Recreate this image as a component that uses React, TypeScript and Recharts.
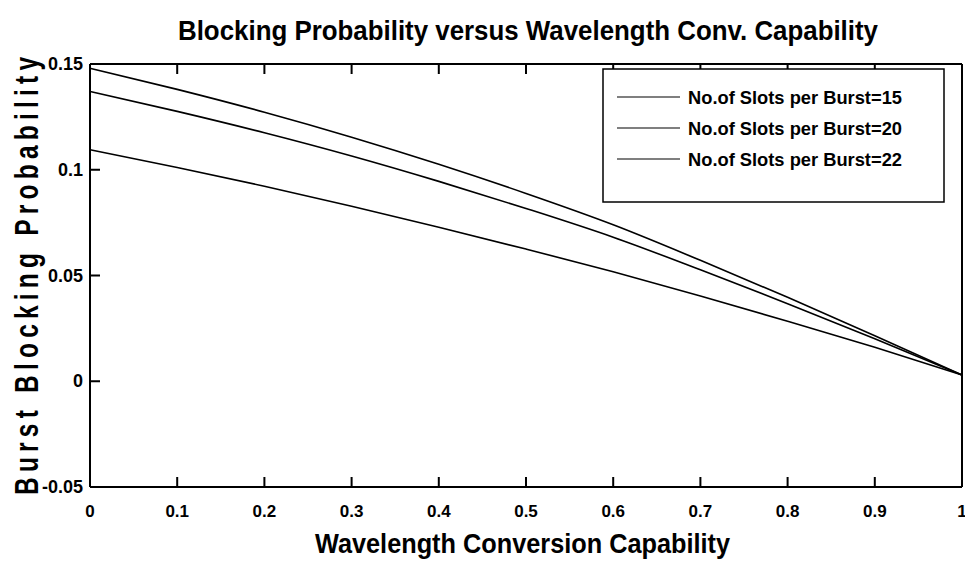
import React from 'react'
import { LineChart, Line, XAxis, YAxis } from 'recharts'

const capability = [0, 0.1, 0.2, 0.3, 0.4, 0.5, 0.6, 0.7, 0.8, 0.9, 1]
const slots15 = [0.1095, 0.1011, 0.0922, 0.0827, 0.0728, 0.0625, 0.0518, 0.0403, 0.0284, 0.0161, 0.003]
const slots20 = [0.137, 0.1276, 0.1175, 0.1065, 0.0945, 0.0817, 0.0681, 0.0527, 0.0367, 0.0201, 0.003]
const slots22 = [0.148, 0.138, 0.1272, 0.1154, 0.1026, 0.0888, 0.074, 0.0572, 0.0397, 0.0215, 0.003]

const xTicks = [0, 0.1, 0.2, 0.3, 0.4, 0.5, 0.6, 0.7, 0.8, 0.9, 1]
const yTicks = [-0.05, 0, 0.05, 0.1, 0.15]
const legendLabels = ['No.of Slots per Burst=15', 'No.of Slots per Burst=20', 'No.of Slots per Burst=22']

const W = 965
const H = 567
const font = "'Liberation Sans', Arial, sans-serif"

const data = capability.map((x, i) => ({
  x,
  s15: slots15[i],
  s20: slots20[i],
  s22: slots22[i],
}))

const frame = { stroke: '#000', strokeWidth: 2 }

// matlab style ticks: short marks pointing into the plot
const BottomTick = (props: any) => {
  const x = Number(props.x)
  const y = Number(props.y)
  return (
    <g>
      <rect x={x - 1} y={y - 10} width={2} height={10} fill="#000" />
      <text x={x} y={y + 30} textAnchor="middle" fontFamily={font} fontSize={17} fontWeight="bold" fill="#000">
        {String(props.payload.value)}
      </text>
    </g>
  )
}
const TopTick = (props: any) => <rect x={Number(props.x) - 1} y={Number(props.y)} width={2} height={10} fill="#000" />
const LeftTick = (props: any) => (
  <g>
    <rect x={Number(props.x)} y={Number(props.y) - 1} width={10} height={2} fill="#000" />
    <text x={Number(props.x) - 7} y={Number(props.y) + 6} textAnchor="end" fontFamily={font} fontSize={18} fontWeight="bold" fill="#000">
      {String(props.payload.value)}
    </text>
  </g>
)
const RightTick = (props: any) => <rect x={Number(props.x) - 10} y={Number(props.y) - 1} width={10} height={2} fill="#000" />

const App: React.FC = () => (
  <div style={{ position: 'absolute', left: 0, top: 0, width: W, height: H, background: '#fff' }}>
    <LineChart width={W} height={H} data={data} margin={{ top: 63, right: 2, bottom: 50, left: 30 }}>
      <XAxis xAxisId="bottom" dataKey="x" type="number" domain={[0, 1]} ticks={xTicks} height={30} tickSize={0} tickMargin={0} tickLine={false} axisLine={frame} tick={(p: any) => <BottomTick {...p} />} interval={0} />
      <XAxis xAxisId="top" orientation="top" dataKey="x" type="number" domain={[0, 1]} ticks={xTicks} height={1} tickSize={0} tickMargin={0} tickLine={false} axisLine={frame} tick={(p: any) => <TopTick {...p} />} interval={0} />
      <YAxis yAxisId="left" type="number" domain={[-0.05, 0.15]} ticks={yTicks} width={60} tickSize={0} tickMargin={0} tickLine={false} axisLine={frame} tick={(p: any) => <LeftTick {...p} />} interval={0} />
      <YAxis yAxisId="right" orientation="right" type="number" domain={[-0.05, 0.15]} ticks={yTicks} width={1} tickSize={0} tickMargin={0} tickLine={false} axisLine={frame} tick={(p: any) => <RightTick {...p} />} interval={0} />
      <Line xAxisId="bottom" yAxisId="left" dataKey="s15" type="monotone" stroke="#000" strokeWidth={1.6} dot={false} isAnimationActive={false} />
      <Line xAxisId="bottom" yAxisId="left" dataKey="s20" type="monotone" stroke="#000" strokeWidth={1.6} dot={false} isAnimationActive={false} />
      <Line xAxisId="bottom" yAxisId="left" dataKey="s22" type="monotone" stroke="#000" strokeWidth={1.6} dot={false} isAnimationActive={false} />
    </LineChart>

    {/* title, axis labels and the boxed legend drawn on top */}
    <svg width={W} height={H} style={{ position: 'absolute', left: 0, top: 0, pointerEvents: 'none' }}>
      <text x={178} y={40} fontFamily={font} fontSize={28} fontWeight="bold" textLength={700} lengthAdjust="spacingAndGlyphs">
        Blocking Probability versus Wavelength Conv. Capability
      </text>
      <text x={315} y={553} fontFamily={font} fontSize={28} fontWeight="bold" textLength={415} lengthAdjust="spacingAndGlyphs">
        Wavelength Conversion Capability
      </text>
      <text
        transform="translate(38,495) rotate(-90) scale(0.72,1)"
        fontFamily={font}
        fontSize={34}
        fontWeight="bold"
        textLength={438 / 0.72}
        lengthAdjust="spacing"
      >
        Burst Blocking Probability
      </text>
      <rect x={603} y={69} width={341} height={133} fill="#fff" stroke="#000" strokeWidth={1.5} />
      {legendLabels.map((label, i) => (
        <g key={label}>
          <line x1={617} x2={680} y1={97 + i * 31} y2={97 + i * 31} stroke="#000" strokeWidth={1.2} />
          <text x={688} y={104 + i * 31} fontFamily={font} fontSize={19} fontWeight="bold" textLength={214} lengthAdjust="spacingAndGlyphs">
            {label}
          </text>
        </g>
      ))}
    </svg>
  </div>
)

export default App
